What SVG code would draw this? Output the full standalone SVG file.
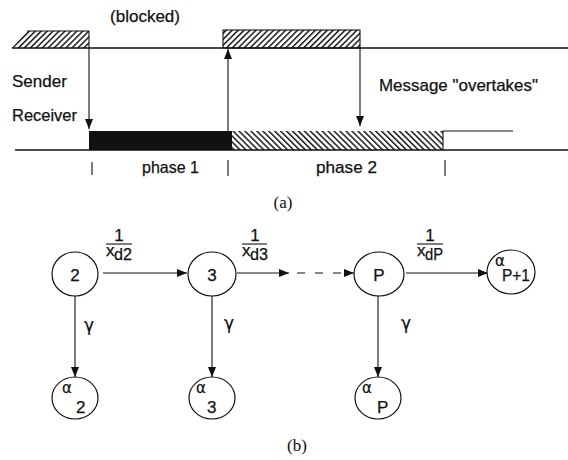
<svg xmlns="http://www.w3.org/2000/svg" width="568" height="460" viewBox="0 0 568 460">
  <defs>
    <pattern id="hatchFwd" patternUnits="userSpaceOnUse" width="4.2" height="4.2" patternTransform="rotate(45)">
      <rect width="4.2" height="4.2" fill="#fff"/>
      <line x1="0" y1="0" x2="0" y2="4.2" stroke="#111" stroke-width="2.9"/>
    </pattern>
    <pattern id="hatchBack" patternUnits="userSpaceOnUse" width="4.2" height="4.2" patternTransform="rotate(-45)">
      <rect width="4.2" height="4.2" fill="#fff"/>
      <line x1="0" y1="0" x2="0" y2="4.2" stroke="#111" stroke-width="2.9"/>
    </pattern>
    <marker id="arrow" viewBox="0 0 10 8" refX="10" refY="4" markerWidth="10" markerHeight="8" markerUnits="userSpaceOnUse" orient="auto">
      <path d="M0,0 L10,4 L0,8 Z" fill="#111"/>
    </marker>
  </defs>
  <style>
    .ln { stroke: #111; stroke-width: 1.3; fill: none; }
    .thin { stroke: #111; stroke-width: 1.1; fill: none; }
    .node { fill: #fff; stroke: #111; stroke-width: 1.2; }
    .t { font-family: "Liberation Sans", Arial, sans-serif; font-size: 17px; fill: #111; stroke: #111; stroke-width: 0.25; }
    .cap { font-family: "Liberation Serif", "Times New Roman", serif; font-size: 17px; fill: #111; }
    .sym { font-family: "DejaVu Sans", "Liberation Sans", sans-serif; fill: #111; stroke: #111; stroke-width: 0.2; }
  </style>
  <rect width="568" height="460" fill="#fff"/>

  <!-- (a) timeline of sender and receiver -->
  <g id="timeline">
    <!-- sender blocked intervals -->
    <polygon points="27,31 89,31 89,48 12,48" fill="url(#hatchFwd)"/>
    <polyline class="thin" points="27,31 89,31 89,48"/>
    <rect x="223" y="30" width="137" height="18" fill="url(#hatchFwd)"/>
    <rect class="thin" x="223" y="30" width="137" height="18"/>
    <!-- sender axis -->
    <line class="ln" x1="12" y1="48" x2="568" y2="48"/>

    <!-- receiver phases -->
    <rect x="89" y="131" width="143" height="19" fill="#111"/>
    <rect x="232" y="131" width="211" height="19" fill="url(#hatchBack)"/>
    <polyline class="thin" points="443,150 443,131 513,131"/>
    <!-- receiver axis -->
    <line class="ln" x1="15" y1="150" x2="568" y2="150"/>

    <!-- phase boundary ticks -->
    <line class="thin" x1="92" y1="162" x2="92" y2="175"/>
    <line class="thin" x1="228" y1="160" x2="228" y2="176"/>
    <line class="thin" x1="445" y1="160" x2="445" y2="176"/>

    <text class="t" x="110" y="22" textLength="70" lengthAdjust="spacingAndGlyphs">(blocked)</text>
    <text class="t" x="12" y="87" textLength="55" lengthAdjust="spacingAndGlyphs">Sender</text>
    <text class="t" x="12" y="121" textLength="65" lengthAdjust="spacingAndGlyphs">Receiver</text>
    <text class="t" x="379" y="91" textLength="159" lengthAdjust="spacingAndGlyphs">Message "overtakes"</text>
    <text class="t" x="142" y="173" textLength="57" lengthAdjust="spacingAndGlyphs">phase 1</text>
    <text class="t" x="316" y="173" textLength="61" lengthAdjust="spacingAndGlyphs">phase 2</text>
    <text class="cap" x="283" y="208" text-anchor="middle">(a)</text>
  </g>

  <!-- (a) message arrows -->
  <g id="timeline-arrows">
    <line class="thin" x1="89" y1="48" x2="89" y2="129" marker-end="url(#arrow)"/>
    <line class="thin" x1="228" y1="131" x2="228" y2="49" marker-end="url(#arrow)"/>
    <line class="thin" x1="360" y1="48" x2="360" y2="126" marker-end="url(#arrow)"/>
  </g>

  <!-- (b) connectors -->
  <g id="connectors">
    <line class="thin" x1="103" y1="273" x2="187" y2="273" marker-end="url(#arrow)"/>
    <line class="thin" x1="237" y1="273" x2="289" y2="273" marker-end="url(#arrow)"/>
    <line class="thin" x1="297" y1="273" x2="354" y2="273" stroke-dasharray="8 10" marker-end="url(#arrow)"/>
    <line class="thin" x1="406" y1="273" x2="488" y2="273" marker-end="url(#arrow)"/>
    <line class="thin" x1="75" y1="296" x2="75" y2="377" marker-end="url(#arrow)"/>
    <line class="thin" x1="212" y1="296" x2="212" y2="377" marker-end="url(#arrow)"/>
    <line class="thin" x1="378" y1="296" x2="378" y2="377" marker-end="url(#arrow)"/>

    <!-- rate labels 1/x_d -->
    <g id="rate-d2">
      <text class="t" x="119" y="241" text-anchor="middle">1</text>
      <line class="thin" x1="106" y1="244" x2="132" y2="244"/>
      <text class="t" x="106" y="256" font-size="14">x</text>
      <text class="t" x="114" y="260" textLength="18" lengthAdjust="spacingAndGlyphs">d2</text>
    </g>
    <g id="rate-d3">
      <text class="t" x="255" y="241" text-anchor="middle">1</text>
      <line class="thin" x1="242" y1="244" x2="267" y2="244"/>
      <text class="t" x="242" y="256" font-size="14">x</text>
      <text class="t" x="250" y="260" textLength="18" lengthAdjust="spacingAndGlyphs">d3</text>
    </g>
    <g id="rate-dP">
      <text class="t" x="430" y="241" text-anchor="middle">1</text>
      <line class="thin" x1="417" y1="244" x2="443" y2="244"/>
      <text class="t" x="417" y="256" font-size="14">x</text>
      <text class="t" x="425" y="260" textLength="18" lengthAdjust="spacingAndGlyphs">dP</text>
    </g>

    <text class="sym" x="84" y="331" font-size="17">γ</text>
    <text class="sym" x="224" y="329" font-size="17">γ</text>
    <text class="sym" x="401" y="329" font-size="17">γ</text>
  </g>

  <!-- (b) state nodes -->
  <g id="node-2">
    <ellipse class="node" cx="75" cy="274" rx="23" ry="22"/>
    <text class="t" x="75" y="281" font-size="19" text-anchor="middle">2</text>
  </g>
  <g id="node-3">
    <ellipse class="node" cx="212" cy="274" rx="24" ry="22"/>
    <text class="t" x="212" y="281" font-size="19" text-anchor="middle">3</text>
  </g>
  <g id="node-P">
    <ellipse class="node" cx="379" cy="274" rx="25" ry="22"/>
    <text class="t" x="379" y="281" font-size="19" text-anchor="middle">P</text>
  </g>
  <g id="node-alphaP1">
    <ellipse class="node" cx="511" cy="272" rx="24" ry="22"/>
    <text class="sym" x="495" y="266" font-size="15">α</text>
    <text class="t" x="502" y="281" textLength="28" lengthAdjust="spacingAndGlyphs">P+1</text>
  </g>
  <g id="node-alpha2">
    <ellipse class="node" cx="75" cy="398" rx="23" ry="21"/>
    <text class="sym" x="62" y="393" font-size="15">α</text>
    <text class="t" x="76" y="413">2</text>
  </g>
  <g id="node-alpha3">
    <ellipse class="node" cx="212" cy="398" rx="23" ry="21"/>
    <text class="sym" x="196" y="393" font-size="15">α</text>
    <text class="t" x="207" y="413">3</text>
  </g>
  <g id="node-alphaP">
    <ellipse class="node" cx="378" cy="398" rx="23" ry="21"/>
    <text class="sym" x="362" y="393" font-size="15">α</text>
    <text class="t" x="377" y="413">P</text>
  </g>

  <text class="cap" x="297" y="451" text-anchor="middle">(b)</text>
</svg>
